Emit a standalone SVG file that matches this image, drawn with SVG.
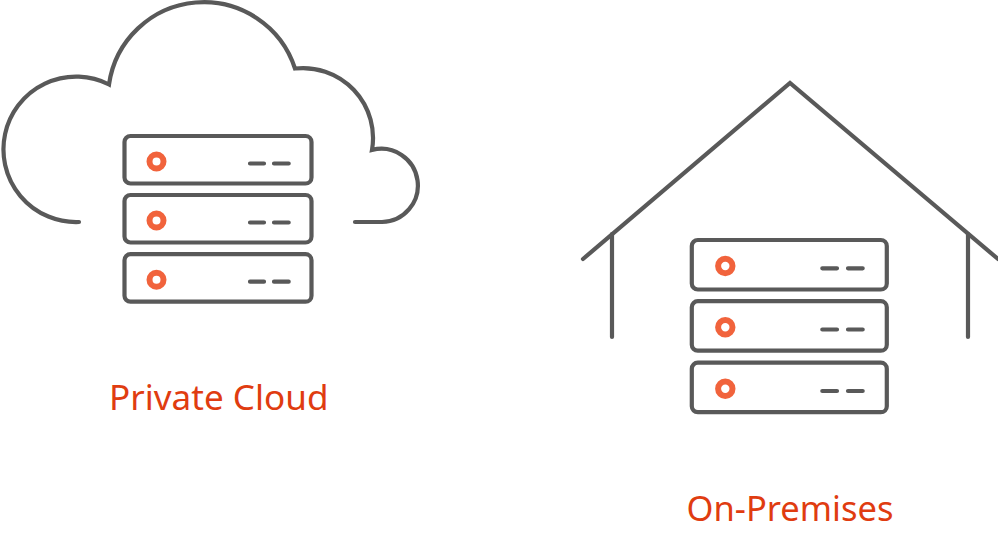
<svg xmlns="http://www.w3.org/2000/svg" width="998" height="539" viewBox="0 0 998 539">
  <style>
    .line { fill: none; stroke: #595959; stroke-width: 4.2; stroke-linecap: round; stroke-linejoin: miter; }
    .box { fill: #fff; stroke: #595959; stroke-width: 4.2; }
    .led { fill: #fff; stroke: #f1633c; stroke-width: 6; }
    .dash { fill: none; stroke: #595959; stroke-width: 4.2; stroke-linecap: round; }
    .label { font-family: "Noto Sans", "Open Sans", sans-serif; font-size: 34px; fill: #e03c10; }
  </style>
  <defs>
    <g id="unit-small">
      <rect class="box" x="0" y="0" width="187" height="47.5" rx="6"/>
      <circle class="led" cx="32" cy="25.5" r="7"/>
      <path class="dash" d="M125.500 27.500H139.500M149.500 27.500H164.200"/>
    </g>
    <g id="unit-large">
      <rect class="box" x="0" y="0" width="195" height="49.5" rx="6"/>
      <circle class="led" cx="33.5" cy="26" r="7.200"/>
      <path class="dash" d="M130.500 28.300H145.200M156.200 28.300H170.900"/>
    </g>
  </defs>
  <rect width="998" height="539" fill="#fff"/>
  <g id="connectors"/>
  <g id="cloud">
    <path class="line" d="M79 222A72.700 72.700 0 1 1 109 84.500A95.800 95.800 0 0 1 295 68.500A70 70 0 0 1 372 150A36.600 36.600 0 1 1 382 222H355"/>
  </g>
  <g id="cloud-rack">
    <use href="#unit-small" x="124.500" y="136"/>
    <use href="#unit-small" x="124.500" y="195"/>
    <use href="#unit-small" x="124.500" y="254.200"/>
  </g>
  <g id="house">
    <path class="line" d="M583 259L790 83L998 259"/>
    <path class="line" d="M612 234V337M968 234V337"/>
  </g>
  <g id="house-rack">
    <use href="#unit-large" x="691.800" y="240"/>
    <use href="#unit-large" x="691.800" y="301.200"/>
    <use href="#unit-large" x="691.800" y="362.700"/>
  </g>
  <g id="label-private-cloud">
    <text class="label" x="109" y="410" textLength="219.500" lengthAdjust="spacingAndGlyphs">Private Cloud</text>
  </g>
  <g id="label-on-premises">
    <text class="label" x="686.500" y="520.500" textLength="207" lengthAdjust="spacingAndGlyphs">On-Premises</text>
  </g>
</svg>
